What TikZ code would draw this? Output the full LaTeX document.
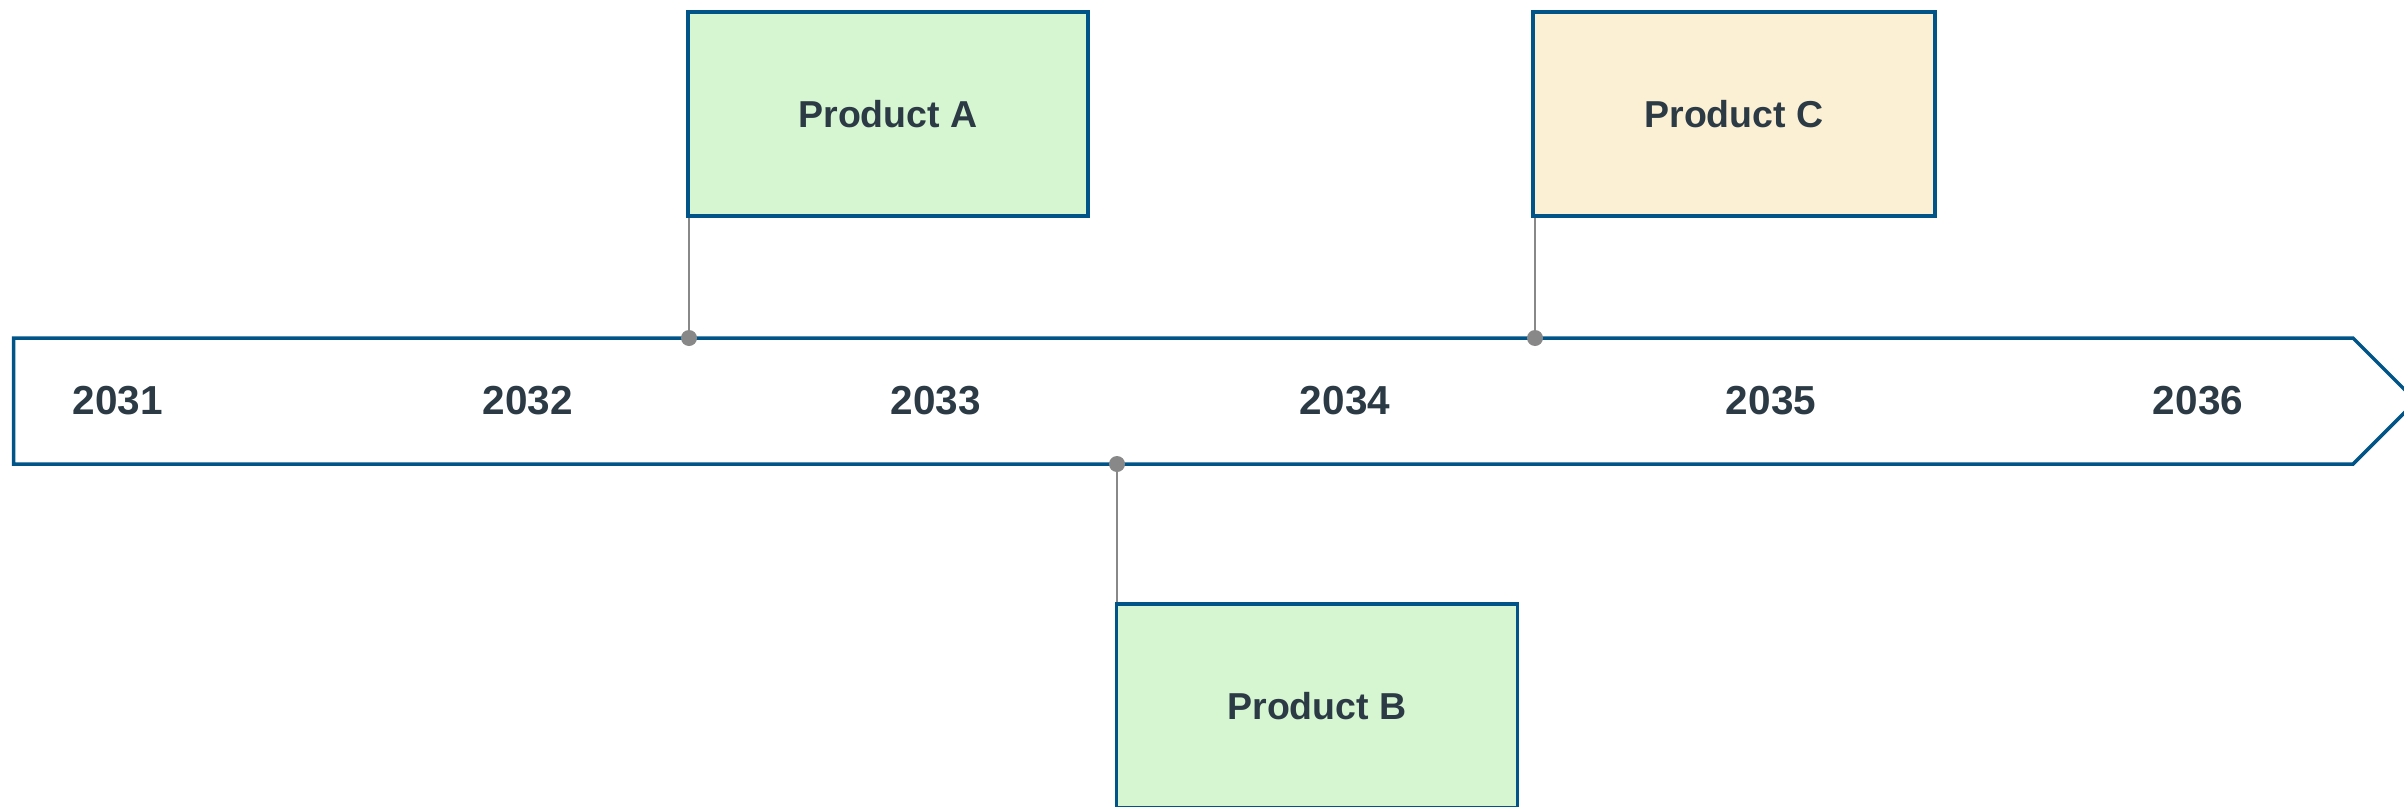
\documentclass[tikz,border=0pt]{standalone}
\usepackage{fontspec}
\setmainfont{Liberation Sans}
\usepackage{xcolor}
\usepackage{tikz}
\usetikzlibrary{arrows.meta,positioning,calc}
\definecolor{LineBlue}{HTML}{005487}
\definecolor{SoftGreen}{HTML}{D6F5D1}
\definecolor{SoftCream}{HTML}{FBF0D4}
\definecolor{InkSlate}{HTML}{2B3A44}
\definecolor{PinGray}{HTML}{888888}

\begin{document}
\begin{tikzpicture}[x=1pt,y=-1pt,font=\bfseries\fontsize{40.5}{46}\selectfont]
\useasboundingbox (0,0) rectangle (2404,806);
% timeline band
\draw[LineBlue,line width=3.5pt,fill=white,line join=miter] (13.5,338)--(2353,338)--(2416,401)--(2353,464)--(13.5,464)--cycle;
\node[text=InkSlate] (y31) at (118,401) {2031};
\node[text=InkSlate] (y32) at (528,401) {2032};
\node[text=InkSlate] (y33) at (936,401) {2033};
\node[text=InkSlate] (y34) at (1345,401) {2034};
\node[text=InkSlate] (y35) at (1771,401) {2035};
\node[text=InkSlate] (y36) at (2198,401) {2036};
% product boxes
\node[draw=LineBlue,line width=3.5pt,fill=SoftGreen,text=InkSlate,font=\bfseries\fontsize{37.5}{44}\selectfont,minimum width=400pt,minimum height=204pt,inner sep=0pt] (pa) at (888,114) {Product A};
\node[draw=LineBlue,line width=3.5pt,fill=SoftGreen,text=InkSlate,font=\bfseries\fontsize{37.5}{44}\selectfont,minimum width=401pt,minimum height=204pt,inner sep=0pt] (pb) at (1317,706) {Product B};
\node[draw=LineBlue,line width=3.5pt,fill=SoftCream,text=InkSlate,font=\bfseries\fontsize{37.5}{44}\selectfont,minimum width=402pt,minimum height=204pt,inner sep=0pt] (pc) at (1734,114) {Product C};
% pins
\coordinate (ca) at (689,338);
\coordinate (cb) at (1117,464);
\coordinate (cc) at (1535,338);
\draw[PinGray,line width=2.5pt] (ca)--(ca |- pa.south);
\draw[PinGray,line width=2.5pt] (cb)--(cb |- pb.north);
\draw[PinGray,line width=2.5pt] (cc)--(cc |- pc.south);
\node[circle,fill=PinGray,inner sep=0pt,minimum size=16pt] (da) at (ca) {};
\node[circle,fill=PinGray,inner sep=0pt,minimum size=16pt] (db) at (cb) {};
\node[circle,fill=PinGray,inner sep=0pt,minimum size=16pt] (dc) at (cc) {};
\end{tikzpicture}
\end{document}
